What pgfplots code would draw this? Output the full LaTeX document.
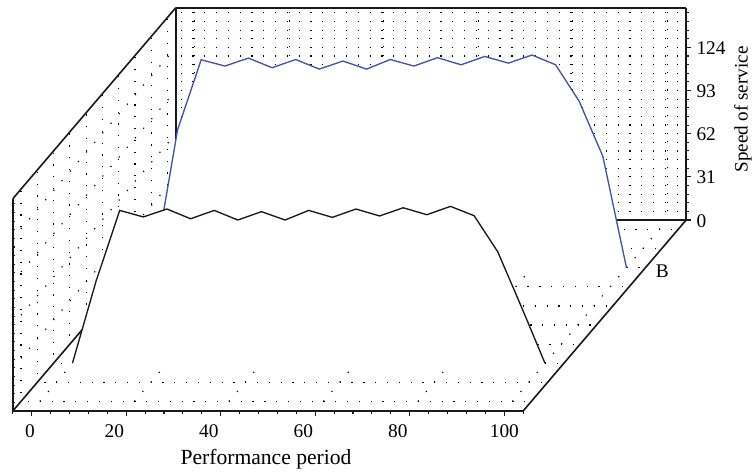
\documentclass[border=0pt]{standalone}
\usepackage{fontspec}
\setmainfont{Liberation Serif}
\usepackage{pgfplots}
\usepackage{pgfplotstable}
\pgfplotsset{compat=1.18}

\definecolor{seriesblue}{RGB}{68,82,170}

% x = performance period, y = depth on the B axis, z = speed of service
\pgfplotstableread{
x y z
0 0.25 0
5 0.25 59
10 0.25 109.8
15 0.25 105.1
20 0.25 110.8
25 0.25 103.8
30 0.25 109.8
35 0.25 102.9
40 0.25 108.9
45 0.25 102.9
50 0.25 109.8
55 0.25 104.8
60 0.25 110.8
65 0.25 105.8
70 0.25 111.7
75 0.25 106.7
80 0.25 112.7
85 0.25 106
90 0.25 80.1
95 0.25 40.6
100 0.25 0
}\seriesA

\pgfplotstableread{
x y z
0 0.75 0
5 0.75 99.1
10 0.75 149.4
15 0.75 144.9
20 0.75 150.6
25 0.75 143.7
30 0.75 149.6
35 0.75 142.7
40 0.75 148.5
45 0.75 142.7
50 0.75 149.6
55 0.75 144.9
60 0.75 150.9
65 0.75 145.8
70 0.75 151.8
75 0.75 147
80 0.75 152.8
85 0.75 145.8
90 0.75 119.5
95 0.75 80
100 0.75 0
}\seriesB

\tikzset{
    griddot/.style={black, line width=0.85pt, dash pattern=on 0.9pt off #1},
    tickline/.style={black!90, line width=0.8pt},
    curtain/.style={fill=white, draw=none},
    curtainbase/.style={white, line width=1.6pt},
}

\begin{document}
\begin{tikzpicture}[x=0.75pt,y=0.75pt]
\path[use as bounding box] (-31.7,-63) rectangle (721.3,411);
\begin{axis}[
    at={(0,0)}, anchor=origin,
    x={(3.544pt,0pt)}, y={(122.25pt,143.25pt)}, z={(0pt,1.044pt)},
    xmin=-4, xmax=104, ymin=0, ymax=1, zmin=0, zmax=152.5,
    axis line style={line width=1.2pt, black!90},
    tick align=outside,
    xtick pos=lower,
    xtick={0,20,40,60,80,100},
    xticklabels={\hspace*{15pt}0,20,40,60,80,\hspace*{18pt}100},
    ytick={0.75},
    yticklabels={B},
    ztick={0,31,62,93,124},
    ztick pos=right,
    x tick style={draw=none},
    y tick style={draw=none},
    z tick style={draw=none},
    tick label style={font=\fontsize{14.5}{16}\selectfont, /pgf/number format/assume math mode=true},
    xticklabel style={yshift=-3.5pt, xshift=-3pt},
    yticklabel style={yshift=6pt},
    zticklabel style={anchor=west, xshift=1.5pt, yshift=-3.8pt},
    clip=false,
]
% back wall: dotted rows and columns
\pgfplotsinvokeforeach{6.2,12.4,18.6,24.8,31,37.2,43.4,49.6,55.8,62,68.2,74.4,80.6,86.8,93,99.2,105.4,111.6,117.8,124,130.2,136.4,142.6,148.8}{
    \draw[griddot=7.96pt] (axis cs:-3,1,#1) -- (axis cs:104,1,#1);
    \draw[tickline] (axis cs:104,1,#1) -- ++(2.2pt,0pt);
    \draw[tickline] (axis cs:-4,0,#1) -- ++(1.6pt,0pt);
}
\pgfplotsinvokeforeach{0,20,40,60,80,100}{
    \draw[griddot=5.57pt] (axis cs:#1,1,0) -- (axis cs:#1,1,150);
    \draw[griddot=8.52pt] (axis cs:#1,0.05,0) -- (axis cs:#1,1,0);
    \draw[tickline] (axis cs:#1,0,0) -- ++(0pt,-4pt);
}
\pgfplotsinvokeforeach{-4,4,8,12,16,24,28,32,36,44,48,52,56,64,68,72,76,84,88,92,96,104}{
    \draw[tickline] (axis cs:#1,0,0) -- ++(0pt,-2.2pt);
}
\pgfplotsinvokeforeach{0,31,62,93,124}{
    \draw[tickline] (axis cs:104,1,#1) -- ++(4pt,0pt);
}
% floor and left wall
\pgfplotsinvokeforeach{0.05,0.15,0.25,0.35,0.45,0.55,0.65,0.75,0.85,0.95}{
    \draw[griddot=7.96pt] (axis cs:-2.5,#1,0) -- (axis cs:104,#1,0);
    \draw[griddot=7.96pt] (axis cs:-4,#1,6.2) -- (axis cs:-4,#1,152);
}
\pgfplotsinvokeforeach{31,62,93,124}{
    \draw[griddot=8.52pt] (axis cs:-4,0.05,#1) -- (axis cs:-4,1,#1);
}
\addplot3[curtain] table[x=x,y=y,z=z] {\seriesB};
\addplot3[curtainbase] coordinates {(0,0.75,0) (100,0.75,0)};
\addplot3[seriesblue, line width=1pt] table[x=x,y=y,z=z] {\seriesB};
\addplot3[curtain] table[x=x,y=y,z=z] {\seriesA};
\addplot3[curtainbase] coordinates {(0,0.25,0) (100,0.25,0)};
\addplot3[black!90, line width=1pt] table[x=x,y=y,z=z] {\seriesA};
\end{axis}
\node[font=\fontsize{16.2}{18}\selectfont] at (234.3,-48) {Performance period};
\node[rotate=90, font=\fontsize{14.3}{16}\selectfont] at (711.3,301.5) {Speed of service};
\end{tikzpicture}
\end{document}
